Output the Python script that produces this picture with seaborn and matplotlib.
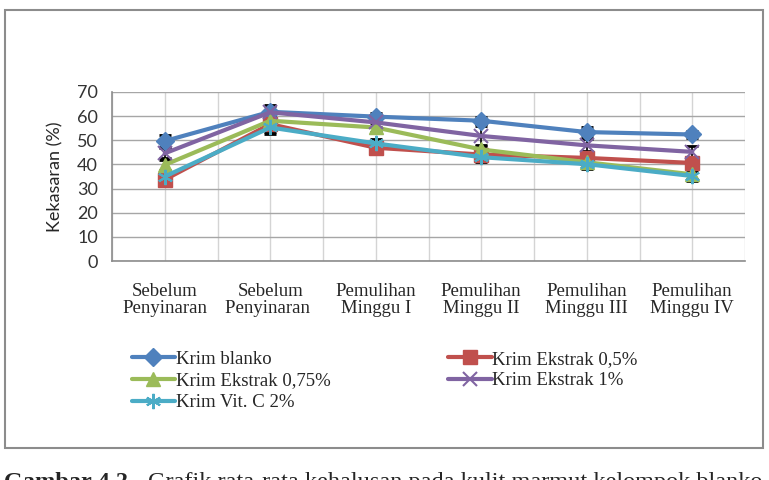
import numpy as np
import pandas as pd
import seaborn as sns
import matplotlib.pyplot as plt
from matplotlib.patches import Rectangle
from matplotlib.ticker import FixedLocator

# data
waktu = ["Sebelum\nPenyinaran", "Sebelum\nPenyinaran ", "Pemulihan\nMinggu I",
         "Pemulihan\nMinggu II", "Pemulihan\nMinggu III", "Pemulihan\nMinggu IV"]

kelompok = ["Krim blanko", "Krim Ekstrak 0,5%", "Krim Ekstrak 0,75%",
            "Krim Ekstrak 1%", "Krim Vit. C 2%"]

blanko = [49.7, 61.8, 59.8, 58.1, 53.4, 52.4]
ekstrak_05 = [33.7, 56.7, 46.9, 44.1, 42.7, 40.6]
ekstrak_075 = [39.8, 58.1, 55.3, 46.2, 40.9, 35.9]
ekstrak_1 = [44.6, 61.6, 57.4, 51.8, 47.9, 45.2]
vit_c = [35.0, 55.3, 48.7, 43.0, 40.1, 35.2]

sd_blanko = [2.5, 2.5, 1.5, 1.5, 2.0, 1.5]
sd_05 = [2.0, 4.0, 2.5, 2.0, 2.5, 2.0]
sd_075 = [2.0, 2.0, 2.0, 2.0, 2.0, 2.0]
sd_1 = [2.0, 3.0, 2.0, 4.0, 2.5, 2.5]
sd_c = [2.0, 2.0, 2.0, 2.0, 2.0, 2.0]

nilai = [blanko, ekstrak_05, ekstrak_075, ekstrak_1, vit_c]
sd = [sd_blanko, sd_05, sd_075, sd_1, sd_c]

warna = ["#4F81BD", "#C0504D", "#9BBB59", "#8064A2", "#4BACC6"]
penanda = ["D", "s", "^", "x", (6, 2, 0)]
ukuran = [9, 10, 10, 10, 11]

sns.set_style("white")
fig = plt.figure(figsize=(7.69, 4.80), dpi=100)
ax = fig.add_axes([112 / 769, 1 - 261 / 480, (745 - 112) / 769, (261 - 92) / 480])

for nama, y, e, c, m, s in zip(kelompok, nilai, sd, warna, penanda, ukuran):
    ax.errorbar(waktu, y, yerr=e, fmt="none", ecolor="black", elinewidth=1.2,
                capsize=4, capthick=2, zorder=2)
    garis_tipis = m == "x" or isinstance(m, tuple)
    sns.lineplot(x=waktu, y=y, ax=ax, color=c, lw=3, marker=m, markersize=s,
                 markeredgecolor=c, markeredgewidth=1.5 if garis_tipis else 1,
                 label=nama, zorder=3, sort=False)

ax.set_xlim(-0.5, 5.5)
ax.set_ylim(0, 70)
ax.set_yticks(np.arange(0, 71, 10))
ax.xaxis.set_minor_locator(FixedLocator(np.arange(-0.5, 6, 1)))
ax.grid(True, axis="y", color="#A6A6A6", lw=1.0)
ax.grid(True, axis="x", which="both", color="#D4D4D4", lw=1.0)
ax.set_axisbelow(True)
for sp in ["top", "right"]:
    ax.spines[sp].set_visible(False)
for sp in ["left", "bottom"]:
    ax.spines[sp].set_color("#8C8C8C")
    ax.spines[sp].set_linewidth(1.2)

ax.tick_params(axis="both", which="both", length=0)
ax.tick_params(axis="y", pad=10, labelsize=13, labelcolor="#333333")
ax.tick_params(axis="x", pad=16)
for t in ax.get_yticklabels():
    t.set_family("Lato")
for t in ax.get_xticklabels():
    t.set_family("Liberation Serif")
    t.set_fontsize(13.5)
    t.set_linespacing(1.0)
ax.set_xlabel("")
ax.set_ylabel("Kekasaran (%)", family="Lato", fontsize=13, labelpad=10)

h, l = ax.get_legend_handles_labels()
urutan = [0, 2, 4, 1, 3]
lg = ax.legend([h[i] for i in urutan], [l[i] for i in urutan], ncol=2,
               loc="upper left", bbox_to_anchor=(124 / 769, 1 - 343 / 480),
               bbox_transform=fig.transFigure, frameon=False, handlelength=2.3,
               handletextpad=0.05, columnspacing=6.3, labelspacing=0.25,
               prop={"family": "Liberation Serif", "size": 13.5}, borderaxespad=0)
ax.legend_ = lg

fig.add_artist(Rectangle((5 / 769, 1 - 448 / 480), (763 - 5) / 769, (448 - 10) / 480,
                         transform=fig.transFigure, fill=False, ec="#8C8C8C", lw=1.5))

# caption of the document page, cut by the bottom edge as in the source
fig.text(4 / 769, -8 / 480, "Gambar 4.2", family="Liberation Serif", weight="bold",
         fontsize=17.5, va="baseline")
fig.text(148 / 769, -8 / 480, "Grafik rata-rata kehalusan pada kulit marmut kelompok blanko",
         family="Liberation Serif", fontsize=17.5, va="baseline")

fig.savefig("out.png", dpi=100)
